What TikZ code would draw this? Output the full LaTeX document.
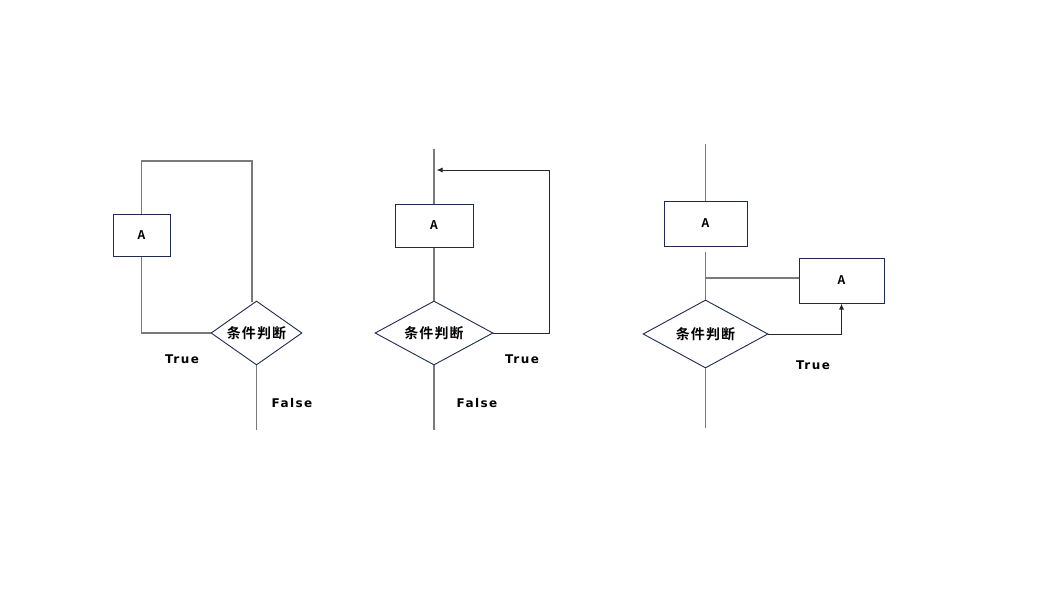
\documentclass[tikz,border=0pt]{standalone}
\usepackage{fontspec}
\usetikzlibrary{shapes.geometric,arrows.meta}
\newfontfamily\cjk{Noto Sans CJK SC}[BoldFont={* Bold}]
\newfontfamily\cjkwide{Noto Sans CJK SC}[BoldFont={* Bold}, LetterSpace=8]
\newfontfamily\lbl{DejaVu Sans}[LetterSpace=12]
\definecolor{navy}{HTML}{1F2A50}
\definecolor{wire}{HTML}{7A7A7A}
\tikzset{
  abox/.style={draw=navy, line width=1pt, fill=white, minimum width=57pt, minimum height=42pt, inner sep=0pt, font=\cjk\bfseries\fontsize{12}{12}\selectfont},
  cond/.style={draw=navy, line width=0.9pt, diamond, aspect=1.42, minimum width=91pt, minimum height=64pt, inner sep=0pt, font=\cjkwide\bfseries\fontsize{14}{14}\selectfont},
  wire/.style={draw=wire, line width=1.1pt},
  back/.style={draw=black!85, line width=1pt, -{Latex[length=6pt,width=5pt]}},
  tag/.style={font=\lbl\bfseries\fontsize{12}{12}\selectfont, inner sep=0pt}
}
\begin{document}
\begin{tikzpicture}[x=1pt, y=-1pt]
\useasboundingbox (0,0) rectangle (1047,608);

% left: loop back to A
\node[abox] (a1) at (141.5,235) {A};
\node[cond] (c1) at (256.5,333) {条件判断};
\coordinate (t1) at (141.5,161);
\coordinate (r1) at (252,161);
\coordinate (e1) at (252,302);
\coordinate (f1) at (256.5,430);
\draw[wire] (a1.north) -- (t1) -- (r1) -- (e1);
\draw[wire] (a1.south) |- (c1.west);
\draw[wire] (c1.south) -- (f1);
\node[tag] (true1) at (182,359) {True};
\node[tag] (false1) at (292,403) {False};

% middle: arrow back above A
\coordinate (s2) at (434,149);
\node[abox, minimum width=78pt, minimum height=43pt] (a2) at (434,225.5) {A};
\node[cond, minimum width=118pt, minimum height=64pt] (c2) at (434,333) {条件判断};
\coordinate (k2) at (549,170);
\coordinate (m2) at (436.5,170);
\coordinate (f2) at (434,430);
\draw[wire] (s2) -- (a2.north);
\draw[wire] (a2.south) -- (c2.north);
\draw[wire] (c2.south) -- (f2);
\draw[back] (c2.east) -| (k2) -- (m2);
\node[tag] (true2) at (522,359) {True};
\node[tag] (false2) at (477,403) {False};

% right: side branch to second A
\coordinate (s3) at (705.5,144);
\node[abox, minimum width=83pt, minimum height=45pt] (a3) at (705.5,223.5) {A};
\node[abox, minimum width=85pt, minimum height=45pt] (b3) at (841.5,280.5) {A};
\node[cond, minimum width=125pt, minimum height=68pt] (c3) at (705.5,334) {条件判断};
\coordinate (g3) at (705.5,252);
\coordinate (j3) at (705.5,278);
\coordinate (f3) at (705.5,428);
\draw[wire] (s3) -- (a3.north);
\draw[wire] (g3) -- (c3.north);
\draw[wire] (j3) -- (j3 -| b3.west);
\draw[wire] (c3.south) -- (f3);
\draw[back] (c3.east) -| (b3.south);
\node[tag] (true3) at (813,365) {True};

\end{tikzpicture}
\end{document}
